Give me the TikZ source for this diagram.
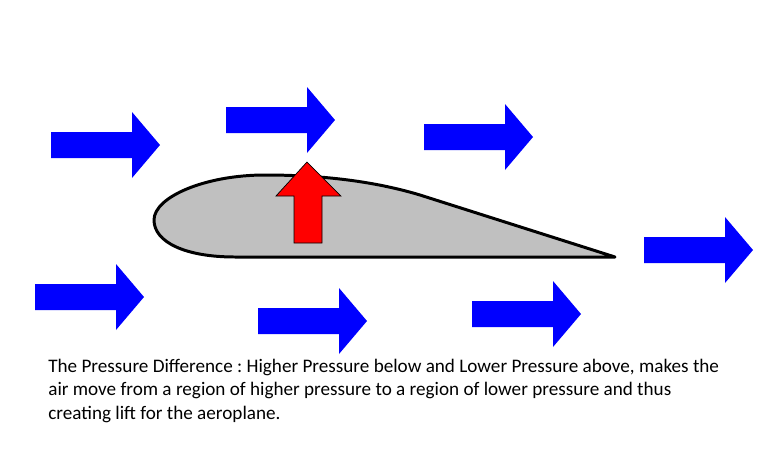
\documentclass[tikz,border=0pt]{standalone}
\usepackage{fontspec}
\setmainfont{Carlito}
\usepackage{xcolor}
\usepackage{tikz}

\definecolor{flowblue}{RGB}{0,0,255}
\definecolor{liftred}{RGB}{255,0,0}
\definecolor{winggray}{RGB}{192,192,192}

\begin{document}
\frenchspacing
\begin{tikzpicture}[
    x=0.02cm, y=-0.02cm,
    every node/.style={font=\fontsize{10.9}{13.2}\selectfont},
    flow/.pic={\fill[flowblue] (0,-13) -- (81,-13) -- (81,-33) -- (109,0) -- (81,33) -- (81,13) -- (0,13) -- cycle;},
    wing/.style={draw=black, line width=1.7pt, fill=winggray, line join=round},
    lift/.style={draw=black, line width=0.4pt, fill=liftred},
    caption/.style={align=left, inner sep=0pt, anchor=north west}
]
\useasboundingbox (0,0) rectangle (762,468);

% ════════════════════════════════════════
% AIRFOIL
% ════════════════════════════════════════
\draw[wing] (615,257) -- (235,257)
    .. controls (185,257) and (154,242) .. (154,220)
    .. controls (154,197) and (205,175) .. (265,175)
    .. controls (330,175) and (380,183) .. (420,195)
    -- cycle;

% ── lift arrow ──
\draw[lift] (294,243) -- (294,196) -- (276,196) -- (307,162)
    -- (341,196) -- (322,196) -- (322,243) -- cycle;

% ════════════════════════════════════════
% AIR FLOW (above and below)
% ════════════════════════════════════════
\pic (w1) at (51,145)  {flow};
\pic (w2) at (226,120) {flow};
\pic (w3) at (424,137) {flow};
\pic (w4) at (644,250) {flow};
\pic (w5) at (35,297)  {flow};
\pic (w6) at (258,321) {flow};
\pic (w7) at (472,314) {flow};

% ── caption ──
\node[caption] (note) at (48,359) {The Pressure Difference : Higher Pressure below and Lower Pressure above, makes the\\
air move from a region of higher pressure to a region of lower pressure and thus\\
creating lift for the aeroplane.};

\end{tikzpicture}
\end{document}
